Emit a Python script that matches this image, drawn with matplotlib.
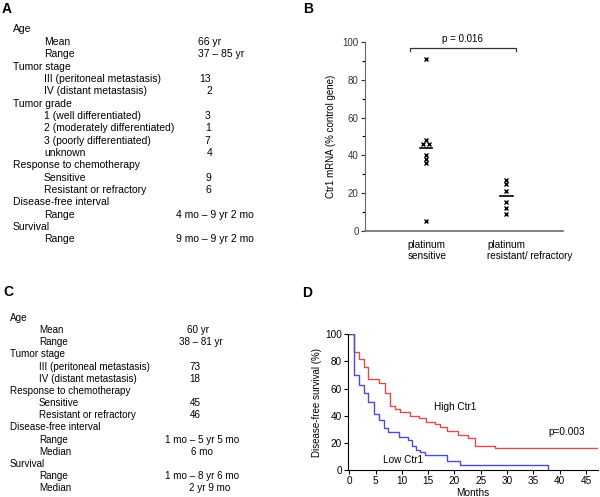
import matplotlib
matplotlib.use("Agg")
import matplotlib.pyplot as plt
import numpy as np

plt.rcParams["font.family"] = ["Liberation Sans", "DejaVu Sans"]

W, H = 600, 497

# PANEL A / C TABLES
table_a_labels = [
    "Age", "Mean", "Range", "Tumor stage", "III (peritoneal metastasis)",
    "IV (distant metastasis)", "Tumor grade", "1 (well differentiated)",
    "2 (moderately differentiated)", "3 (poorly differentiated)", "unknown",
    "Response to chemotherapy", "Sensitive", "Resistant or refractory",
    "Disease-free interval", "Range", "Survival", "Range",
]
table_a_level = [0, 1, 1, 0, 1, 1, 0, 1, 1, 1, 1, 0, 1, 1, 0, 1, 0, 1]
table_a_values = [
    "", "66 yr", "37 – 85 yr", "", "13", "2", "", "3", "1", "7", "4", "",
    "9", "6", "", "4 mo – 9 yr 2 mo", "", "9 mo – 9 yr 2 mo",
]

table_c_labels = [
    "Age", "Mean", "Range", "Tumor stage", "III (peritoneal metastasis)",
    "IV (distant metastasis)", "Response to chemotherapy", "Sensitive",
    "Resistant or refractory", "Disease-free interval", "Range", "Median",
    "Survival", "Range", "Median",
]
table_c_level = [0, 1, 1, 0, 1, 1, 0, 1, 1, 0, 1, 1, 0, 1, 1]
table_c_values = [
    "", "60 yr", "38 – 81 yr", "", "73", "18", "", "45", "46", "",
    "1 mo – 5 yr 5 mo", "6 mo", "", "1 mo – 8 yr 6 mo", "2 yr 9 mo",
]

# PANEL B DATA (Ctr1 mRNA, % control gene)
groups = ["platinum\nsensitive", "platinum\nresistant/ refractory"]
sensitive_vals = [91, 48, 46, 46, 40, 38, 36, 5]
resistant_vals = [27, 25, 21, 15, 12, 9]
p_text_b = "p = 0.016"

# PANEL D DATA (Kaplan-Meier)
high_t = [0, 0.8, 1.8, 2.8, 3.6, 5.7, 6.8, 7.7, 8.6, 9.6, 11.5, 13.3, 14.6,
          16.2, 17.3, 18.6, 20.6, 22.5, 23.9, 27.8, 47.3]
high_s = [100, 87, 82, 76, 67, 64, 57, 47, 45, 43, 40, 38, 35.5, 34, 31.5,
          28.5, 26, 23.5, 18, 16, 16]
low_t = [0, 0.8, 1.8, 2.8, 3.6, 4.6, 5.6, 6.5, 7.4, 9.4, 11.2, 12.0, 12.6,
         13.4, 14.4, 18.6, 21.0, 37.8]
low_s = [100, 70, 63, 57, 50, 41, 37, 31, 28, 24, 22, 18, 15, 13, 11, 7, 4, 0]


def px(x, y):
    return x / W, 1 - y / H


fig = plt.figure(figsize=(6.0, 4.97), dpi=100)

# panel letters
for letter, (lx, ly) in zip("ABCD", [(7, 9), (308, 9), (8, 292), (307, 293)]):
    fig.text(*px(lx, ly), letter, fontsize=10, fontweight="bold",
             ha="center", va="center")


def draw_table(labels, levels, values, y0, dy, x_head, x_sub, val_x, size):
    for i, (lab, lev, val) in enumerate(zip(labels, levels, values)):
        y = y0 + i * dy
        fig.text(*px(x_sub if lev else x_head, y), lab, fontsize=size,
                 ha="left", va="center")
        if val:
            fig.text(*px(val_x[i], y), val, fontsize=size, ha="center",
                     va="center")


a_val_x = [0, 210, 221, 0, 205, 209, 0, 208, 208, 207, 210, 0, 208, 208, 0,
           214.5, 0, 215]
draw_table(table_a_labels, table_a_level, table_a_values, 29.5, 12.35,
           13, 44, a_val_x, 7.5)

c_val_x = [0, 198, 201, 0, 195.5, 195, 0, 195, 195, 0, 201.7, 202, 0,
           201.7, 210]
draw_table(table_c_labels, table_c_level, table_c_values, 318, 12.16,
           10, 39, c_val_x, 7.1)

# PANEL B
axb = fig.add_axes([365 / W, 1 - 230.7 / H, 198 / W, 188.4 / H])
jitter_s = [0, 0, -0.04, 0.04, 0, 0, 0, 0]
jitter_r = [0, 0, 0, 0, 0, 0]
axb.plot(1 + np.array(jitter_s), sensitive_vals, "x", color="black",
         markersize=3, markeredgewidth=1, clip_on=False)
axb.plot(2 + np.array(jitter_r), resistant_vals, "x", color="black",
         markersize=3, markeredgewidth=1, clip_on=False)
for pos, vals in [(1, sensitive_vals), (2, resistant_vals)]:
    m = np.mean(vals)
    axb.plot([pos - 0.08, pos + 0.08], [m, m], color="black", lw=1.2)
axb.set_xlim(0.2375, 2.71)
axb.set_ylim(0, 100)
axb.set_yticks(np.arange(0, 101, 20))
axb.set_yticks(np.arange(10, 100, 20), minor=True)
axb.tick_params(axis="y", labelsize=7, length=3, width=0.8, pad=1.5,
                colors="#333333")
axb.tick_params(axis="y", which="minor", length=2, width=0.8)
axb.set_xticks([])
for s in ["top", "right"]:
    axb.spines[s].set_visible(False)
axb.spines["left"].set_color("#666666")
axb.spines["bottom"].set_color("#777777")
axb.spines["bottom"].set_linewidth(1.3)
axb.set_ylabel("Ctr1 mRNA (% control gene)", fontsize=7, labelpad=5)
for i, g in enumerate(groups):
    axb.text(i + 1 - 0.235, -5, g, fontsize=7.2, ha="left", va="top",
             linespacing=1.05, transform=axb.transData, clip_on=False)
# significance bracket
axb.plot([0.8, 0.8, 2.125, 2.125], [95.4, 97.1, 97.1, 95.4], color="#333333",
         lw=0.9, clip_on=False)
axb.text(1.46, 101.8, p_text_b, fontsize=7, ha="center", va="center")

# PANEL D
axd = fig.add_axes([348.3 / W, 1 - 470 / H, (598 - 348.3) / W, 135.7 / H])
axd.step(high_t, high_s, where="post", color="#dc4c4c", lw=1.0)
axd.step(low_t, low_s, where="post", color="#4c4cd0", lw=1.0)
axd.set_xlim(-0.2, 47.3)
axd.set_ylim(0, 100)
axd.set_xticks(np.arange(0, 46, 5))
axd.set_yticks(np.arange(0, 101, 20))
axd.tick_params(labelsize=7.2, length=3, width=0.8, pad=1.5)
for s in ["top", "right"]:
    axd.spines[s].set_visible(False)
axd.set_xlabel("Months", fontsize=7.2, labelpad=1)
axd.set_ylabel("Disease-free survival (%)", fontsize=7, labelpad=2)
axd.text(20.1, 46.4, "High Ctr1", fontsize=7.2, ha="center", va="center")
axd.text(10.2, 7.4, "Low Ctr1", fontsize=7.2, ha="center", va="center")
axd.text(41.4, 28, "p=0.003", fontsize=7.2, ha="center", va="center")

fig.savefig("out.png", dpi=100)
